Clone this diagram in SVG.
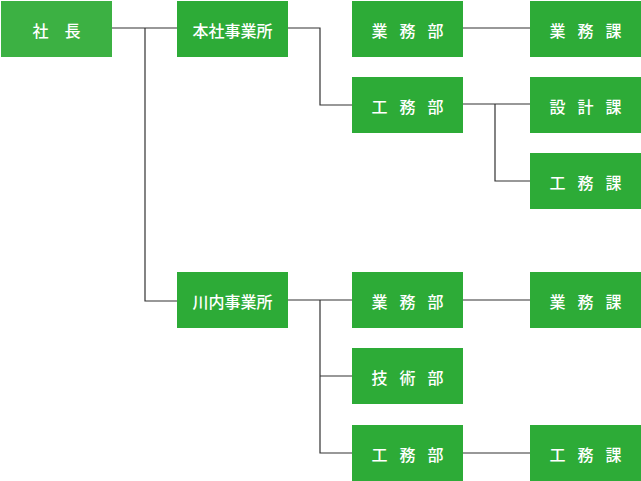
<svg xmlns="http://www.w3.org/2000/svg" width="641" height="481" viewBox="0 0 641 481">
<style>
.b{fill:#2dab37}
.top{fill:#3cb143}
text{fill:#fff;font-family:"Noto Sans CJK JP",sans-serif;font-size:16px;font-weight:500;text-anchor:middle;dominant-baseline:central}
.s{letter-spacing:12px}
.w{letter-spacing:16px}
.c{fill:none;stroke:#333;stroke-width:1.2}
</style>
<g id="connectors">
<path class="c" d="M112 28H177M145 28V301H177M288 28H320V105H352M463 28H530M463 104H530M495 104V181H530M288 300H352M320 300V453H352M320 376H352M463 300H530M463 453H530"/>
</g>
<g id="shacho"><rect class="top" x="1" y="1" width="111" height="56"/><text class="w" x="64.5" y="30">社長</text></g>
<g id="honsha"><rect class="b" x="177" y="1" width="111" height="56"/><text x="232.5" y="30">本社事業所</text></g>
<g id="h-gyomubu"><rect class="b" x="352" y="1" width="111" height="56"/><text class="s" x="413.5" y="30">業務部</text></g>
<g id="h-gyomuka"><rect class="b" x="530" y="1" width="111" height="56"/><text class="s" x="591.5" y="30">業務課</text></g>
<g id="h-komubu"><rect class="b" x="352" y="77" width="111" height="56"/><text class="s" x="413.5" y="106">工務部</text></g>
<g id="h-sekkeika"><rect class="b" x="530" y="77" width="111" height="56"/><text class="s" x="591.5" y="106">設計課</text></g>
<g id="h-komuka"><rect class="b" x="530" y="153" width="111" height="56"/><text class="s" x="591.5" y="182">工務課</text></g>
<g id="sendai"><rect class="b" x="177" y="272" width="111" height="56"/><text x="232.5" y="301">川内事業所</text></g>
<g id="s-gyomubu"><rect class="b" x="352" y="272" width="111" height="56"/><text class="s" x="413.5" y="301">業務部</text></g>
<g id="s-gijutsubu"><rect class="b" x="352" y="348" width="111" height="56"/><text class="s" x="413.5" y="377">技術部</text></g>
<g id="s-komubu"><rect class="b" x="352" y="425" width="111" height="56"/><text class="s" x="413.5" y="454">工務部</text></g>
<g id="s-gyomuka"><rect class="b" x="530" y="272" width="111" height="56"/><text class="s" x="591.5" y="301">業務課</text></g>
<g id="s-komuka"><rect class="b" x="530" y="425" width="111" height="56"/><text class="s" x="591.5" y="454">工務課</text></g>
</svg>
